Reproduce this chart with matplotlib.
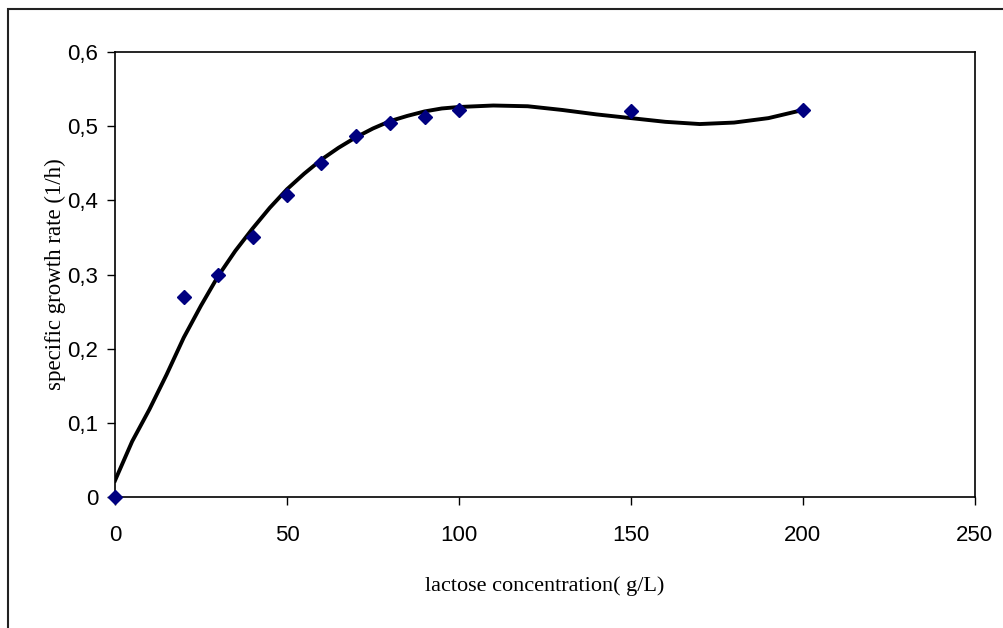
import matplotlib.pyplot as plt
from matplotlib.patches import Rectangle

# measured data points
lactose = [0, 20, 30, 40, 50, 60, 70, 80, 90, 100, 150, 200]
mu = [0.0, 0.27, 0.30, 0.35, 0.407, 0.45, 0.487, 0.505, 0.513, 0.522, 0.52, 0.522]

# trendline
trend_x = [0, 5, 10, 15, 20, 25, 30, 35, 40, 45, 50, 55, 60, 65, 70, 75, 80, 85, 90, 95,
           100, 110, 120, 130, 140, 150, 160, 170, 180, 190, 200]
trend_y = [0.022, 0.075, 0.118, 0.165, 0.215, 0.258, 0.298, 0.332, 0.362, 0.39, 0.415,
           0.436, 0.455, 0.471, 0.485, 0.497, 0.507, 0.514, 0.52, 0.524, 0.526, 0.528,
           0.527, 0.522, 0.516, 0.511, 0.506, 0.503, 0.505, 0.511, 0.522]

x_ticks = [0, 50, 100, 150, 200, 250]
y_ticks = [0, 0.1, 0.2, 0.3, 0.4, 0.5, 0.6]
y_labels = ["0", "0,1", "0,2", "0,3", "0,4", "0,5", "0,6"]

fig = plt.figure(figsize=(10.04, 6.28), dpi=100)
ax = fig.add_axes([0.1145, 0.2086, 0.8565, 0.7084])

# outer frame (only top and left visible in the original)
fig.patches.append(Rectangle((8 / 1004, -0.1), 1.2, 1 - 9 / 628 + 0.1,
                             transform=fig.transFigure, fill=False,
                             edgecolor='#222222', linewidth=1.5))

ax.plot(trend_x, trend_y, color='black', linewidth=2.8, zorder=2)
ax.plot(lactose, mu, linestyle='none', marker='D', markersize=7.5,
        color='#000080', zorder=3, clip_on=False)

ax.set_xlim(0, 250)
ax.set_ylim(0, 0.6)
ax.set_xticks(x_ticks)
ax.set_yticks(y_ticks)
ax.set_yticklabels(y_labels)
ax.tick_params(direction='out', length=6, width=1, labelsize=16, pad=6)
ax.tick_params(axis='x', pad=14)
for lab in ax.get_xticklabels() + ax.get_yticklabels():
    lab.set_fontfamily('Liberation Sans')
for s in ax.spines.values():
    s.set_linewidth(1.2)

ax.set_xlabel("lactose concentration( g/L)", fontfamily='Liberation Serif',
              fontsize=16, labelpad=22)
ax.set_ylabel("specific growth rate (1/h)", fontfamily='Liberation Serif',
              fontsize=16.5, labelpad=1)

fig.savefig("out.png", dpi=100)
